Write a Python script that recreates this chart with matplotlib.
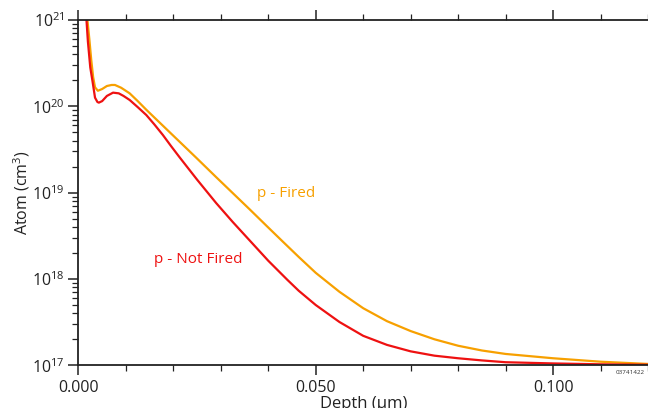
import matplotlib
matplotlib.use("Agg")
import matplotlib.pyplot as plt
from matplotlib.ticker import LogLocator, MultipleLocator, FuncFormatter, NullFormatter
import numpy as np

plt.rcParams['font.family'] = ['Open Sans', 'DejaVu Sans']
plt.rcParams['mathtext.fontset'] = 'custom'
plt.rcParams['mathtext.rm'] = 'Open Sans'
plt.rcParams['mathtext.it'] = 'Open Sans'

# Data: depth (um) and log10 of concentration (atoms/cm^3)
fired_x = [0.0017, 0.0019, 0.0023, 0.0027, 0.0031, 0.0035, 0.0041, 0.0050, 0.0060, 0.0070,
           0.0077, 0.0090, 0.0108, 0.0125, 0.0143, 0.0160, 0.0178, 0.0195, 0.0213, 0.0248,
           0.0290, 0.0325, 0.0360, 0.0400, 0.0430, 0.0464, 0.0500, 0.0550, 0.0600, 0.0650,
           0.0700, 0.0750, 0.0800, 0.0850, 0.0900, 0.1000, 0.1100, 0.1200]
fired_log = [21.2, 21.0, 20.78, 20.54, 20.34, 20.22, 20.18, 20.20, 20.235, 20.247,
             20.247, 20.215, 20.15, 20.06, 19.96, 19.87, 19.775, 19.685, 19.59, 19.405,
             19.18, 18.995, 18.81, 18.595, 18.435, 18.255, 18.07, 17.85, 17.66, 17.51,
             17.395, 17.30, 17.225, 17.17, 17.13, 17.08, 17.04, 17.014]

notfired_x = [0.0015, 0.0017, 0.0020, 0.0025, 0.0030, 0.0035, 0.0040, 0.0043, 0.0050, 0.0060,
              0.0073, 0.0085, 0.0095, 0.0108, 0.0125, 0.0143, 0.0160, 0.0178, 0.0195, 0.0213,
              0.0250, 0.0290, 0.0325, 0.0360, 0.0400, 0.0440, 0.0464, 0.0500, 0.0550, 0.0600,
              0.0650, 0.0700, 0.0750, 0.0800, 0.0850, 0.0900, 0.1000, 0.1100, 0.1200]
notfired_log = [21.2, 21.0, 20.75, 20.45, 20.28, 20.10, 20.05, 20.042, 20.06, 20.12,
                20.158, 20.15, 20.12, 20.073, 19.99, 19.899, 19.79, 19.667, 19.54, 19.41,
                19.15, 18.88, 18.66, 18.45, 18.21, 17.99, 17.863, 17.697, 17.50, 17.34,
                17.235, 17.16, 17.11, 17.08, 17.055, 17.034, 17.02, 17.01, 17.005]

ORANGE = '#F7A000'
RED = '#EE1111'

fig = plt.figure(figsize=(6.48, 4.08), dpi=100)
ax = fig.add_axes([0.121, 0.105, 0.879, 0.846])

ax.plot(fired_x, 10 ** np.array(fired_log), color=ORANGE, lw=1.6,
        solid_joinstyle='round', solid_capstyle='round')
ax.plot(notfired_x, 10 ** np.array(notfired_log), color=RED, lw=1.6,
        solid_joinstyle='round', solid_capstyle='round')

ax.set_yscale('log')
ax.set_xlim(0, 0.12)
ax.set_ylim(1e17, 1e21)

ax.xaxis.set_major_locator(MultipleLocator(0.05))
ax.xaxis.set_minor_locator(MultipleLocator(0.01))
ax.xaxis.set_major_formatter(FuncFormatter(lambda v, p: f"{v:.3f}"))
ax.yaxis.set_major_locator(LogLocator(base=10, numticks=10))
ax.yaxis.set_minor_locator(LogLocator(base=10, subs=np.arange(2, 10), numticks=20))
ax.yaxis.set_minor_formatter(NullFormatter())
ax.yaxis.set_major_formatter(FuncFormatter(lambda v, p: r"$\mathregular{10^{%d}}$" % round(np.log10(v))))

for s in ['left', 'bottom', 'top']:
    ax.spines[s].set_linewidth(1.3)
    ax.spines[s].set_color('#222222')
ax.spines['right'].set_visible(False)

ax.tick_params(axis='both', which='major', direction='out', length=7, width=1.1,
               labelsize=11.5, colors='#222222', labelcolor='#222222')
ax.tick_params(axis='both', which='minor', direction='out', length=4, width=0.9, colors='#222222')
ax.tick_params(axis='x', which='both', top=True)
ax.tick_params(axis='x', which='major', pad=4)
ax.tick_params(axis='y', which='major', pad=3)

ax.set_xlabel('Depth (µm)', fontsize=12, labelpad=0, color='#222222')
ax.set_ylabel(r'Atom (cm$\mathregular{^3}$)', fontsize=11.5, labelpad=0, color='#222222')

ax.text(0.0376, 10 ** 18.995, 'p - Fired', color=ORANGE, fontsize=11, va='center', ha='left')
ax.text(0.0160, 10 ** 18.23, 'p - Not Fired', color=RED, fontsize=11, va='center', ha='left')

fig.text(0.972, 0.088, '03741422', fontsize=4.5, color='#333333', ha='center', va='center')

fig.savefig('out.png', dpi=100)
